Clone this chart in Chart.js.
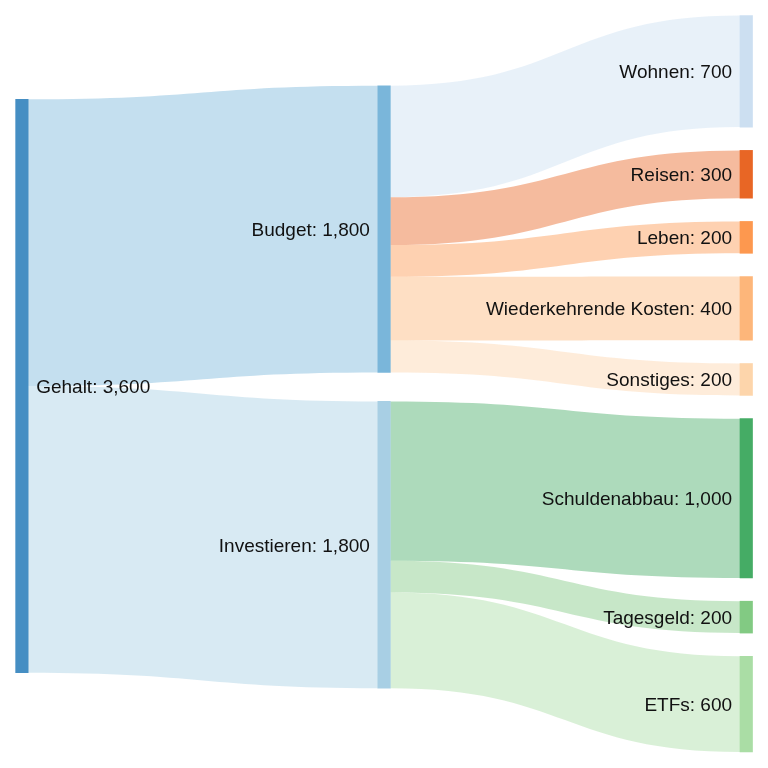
<!DOCTYPE html>
<html>
<head>
<meta charset="utf-8">
<script src="https://cdn.jsdelivr.net/npm/chart.js@4.4.1/dist/chart.umd.min.js"></script>
<style>
  html, body { margin: 0; padding: 0; background: #fff; }
  #wrap { width: 768px; height: 768px; position: relative; }
</style>
</head>
<body>
<div id="wrap"><canvas id="c"></canvas></div>
<script>
// ---- data ----
const nodeNames = ['Gehalt', 'Budget', 'Investieren', 'Wohnen', 'Reisen', 'Leben',
  'Wiederkehrende Kosten', 'Sonstiges', 'Schuldenabbau', 'Tagesgeld', 'ETFs'];
const nodeColumns = [0, 1, 1, 2, 2, 2, 2, 2, 2, 2, 2];
const linkSources = ['Gehalt', 'Gehalt', 'Budget', 'Budget', 'Budget', 'Budget', 'Budget',
  'Investieren', 'Investieren', 'Investieren'];
const linkTargets = ['Budget', 'Investieren', 'Wohnen', 'Reisen', 'Leben',
  'Wiederkehrende Kosten', 'Sonstiges', 'Schuldenabbau', 'Tagesgeld', 'ETFs'];
const linkValues = [1800, 1800, 700, 300, 200, 400, 200, 1000, 200, 600];

// ---- styles / layout ----
const nodeColors = ['#3182bd', '#6baed6', '#9ecae1', '#c6dbef', '#e6550d', '#fd8d3c',
  '#fdae6b', '#fdd0a2', '#31a354', '#74c476', '#a1d99b'];
const nodeOpacity = 0.9;
const linkOpacity = 0.4;
const yRange = 4821;                    // value units covering the canvas height
const columnCenters = [2423, 2429, 2409]; // value units
const columnPadding = [0, 182, 146];    // value units between nodes
const nodeWidth = 12.5;
const labelFont = '19px "Liberation Sans", Arial, Helvetica, sans-serif';
const labelDy = 1.5;

function rgba(hex, a) {
  const n = parseInt(hex.slice(1), 16);
  return `rgba(${(n >> 16) & 255},${(n >> 8) & 255},${n & 255},${a})`;
}

// ---- layout computation (in value units) ----
const nodes = nodeNames.map((name, i) => {
  const inV = linkValues.filter((v, k) => linkTargets[k] === name).reduce((a, b) => a + b, 0);
  const outV = linkValues.filter((v, k) => linkSources[k] === name).reduce((a, b) => a + b, 0);
  return { name, col: nodeColumns[i], value: Math.max(inV, outV), color: nodeColors[i] };
});
[0, 1, 2].forEach(col => {
  const list = nodes.filter(n => n.col === col);
  const total = list.reduce((a, n) => a + n.value, 0) + columnPadding[col] * (list.length - 1);
  let y = columnCenters[col] - total / 2;
  list.forEach(n => { n.y0 = y; n.y1 = y + n.value; y = n.y1 + columnPadding[col]; });
});
const byName = Object.fromEntries(nodes.map(n => [n.name, n]));
const links = linkValues.map((v, k) => ({ s: byName[linkSources[k]], t: byName[linkTargets[k]], v }));
const outOff = {}, inOff = {};
links.forEach(l => {
  const so = outOff[l.s.name] || 0, ti = inOff[l.t.name] || 0;
  l.sy0 = l.s.y0 + so; l.sy1 = l.sy0 + l.v;
  l.ty0 = l.t.y0 + ti; l.ty1 = l.ty0 + l.v;
  outOff[l.s.name] = so + l.v; inOff[l.t.name] = ti + l.v;
});

const sankeyPlugin = {
  id: 'sankeyLinks',
  beforeDatasetsDraw(chart) {
    const { ctx, scales: { x, y } } = chart;
    ctx.save();
    links.forEach(l => {
      const xs = x.getPixelForValue(l.s.col) + nodeWidth / 2;
      const xt = x.getPixelForValue(l.t.col) - nodeWidth / 2;
      const xm = (xs + xt) / 2;
      const s0 = y.getPixelForValue(l.sy0), s1 = y.getPixelForValue(l.sy1);
      const t0 = y.getPixelForValue(l.ty0), t1 = y.getPixelForValue(l.ty1);
      ctx.beginPath();
      ctx.moveTo(xs, s0);
      ctx.bezierCurveTo(xm, s0, xm, t0, xt, t0);
      ctx.lineTo(xt, t1);
      ctx.bezierCurveTo(xm, t1, xm, s1, xs, s1);
      ctx.closePath();
      ctx.fillStyle = rgba(l.t.color, linkOpacity);
      ctx.fill();
    });
    ctx.restore();
  },
  afterDatasetsDraw(chart) {
    const { ctx, scales: { x, y } } = chart;
    ctx.save();
    ctx.font = labelFont;
    ctx.fillStyle = '#111';
    ctx.textBaseline = 'middle';
    nodes.forEach(n => {
      const cy = y.getPixelForValue((n.y0 + n.y1) / 2) + labelDy;
      const cx = x.getPixelForValue(n.col);
      const txt = n.name + ': ' + n.value.toLocaleString('en-US');
      if (n.col === 0) { ctx.textAlign = 'left'; ctx.fillText(txt, cx + nodeWidth / 2 + 8, cy); }
      else { ctx.textAlign = 'right'; ctx.fillText(txt, cx - nodeWidth / 2 - 8, cy); }
    });
    ctx.restore();
  }
};

new Chart(document.getElementById('c'), {
  type: 'bar',
  data: {
    datasets: [{
      data: nodes.map(n => ({ x: n.col, y: [n.y0, n.y1] })),
      backgroundColor: nodes.map(n => rgba(n.color, nodeOpacity)),
      borderWidth: 0,
      barThickness: nodeWidth,
      borderSkipped: false
    }]
  },
  options: {
    responsive: true,
    maintainAspectRatio: false,
    animation: false,
    layout: { padding: 0 },
    plugins: { legend: { display: false }, tooltip: { enabled: false } },
    scales: {
      x: { type: 'linear', min: -0.0605, max: 2.06, display: false, offset: false, bounds: 'data', grid: { display: false } },
      y: { type: 'linear', min: 0, max: yRange, reverse: true, display: false, bounds: 'data', grid: { display: false } }
    }
  },
  plugins: [sankeyPlugin]
});
</script>
</body>
</html>
